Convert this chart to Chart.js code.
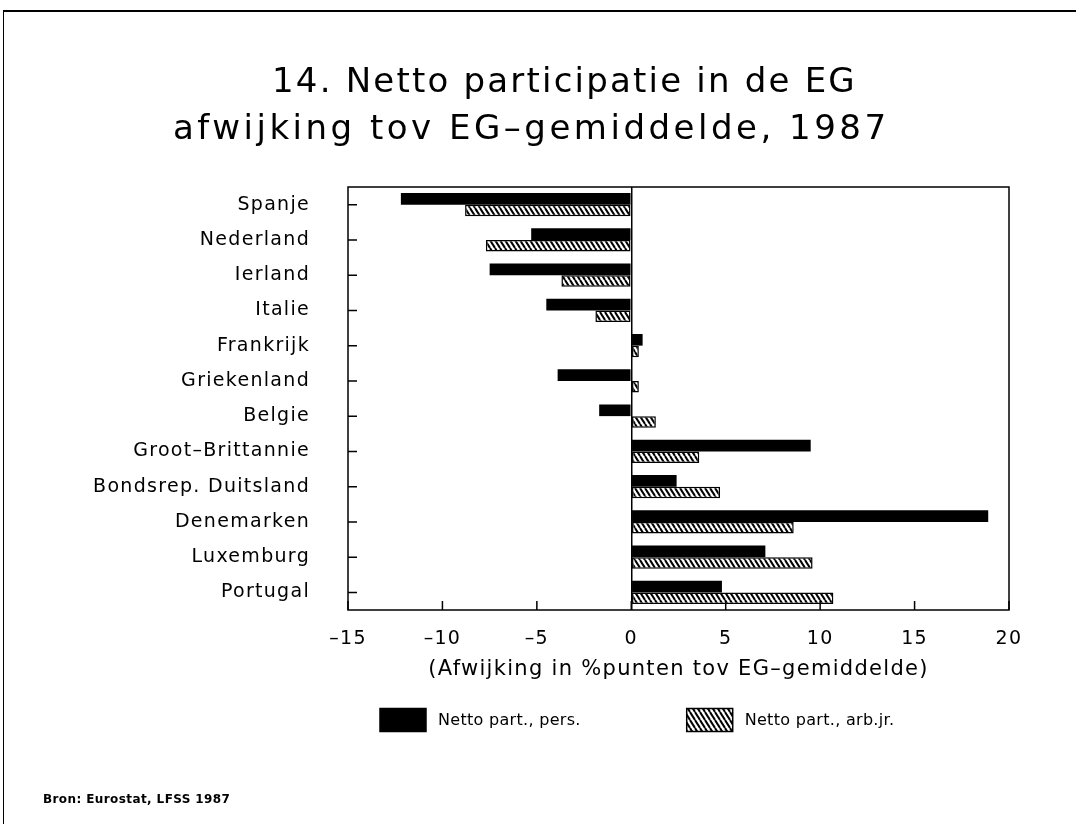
<!DOCTYPE html>
<html>
<head>
<meta charset="utf-8">
<script src="https://cdn.jsdelivr.net/npm/chart.js@4"></script>
<style>
  body { margin: 0; background: #fff; }
  #wrap { position: relative; width: 1076px; height: 824px; overflow: hidden; }
  #frame { position: absolute; left: 3px; top: 10px; width: 1200px; height: 900px;
           border-top: 2px solid #000; border-left: 1.5px solid #000; }
  .t { position: absolute; white-space: nowrap; font-family: "DejaVu Sans"; font-size: 34px;
       line-height: 36px; color: #000; }
  #src { position: absolute; left: 43px; top: 792px; font-family: "DejaVu Sans"; font-weight: bold;
         font-size: 12px; letter-spacing: 0.4px; color: #000; white-space: nowrap; }
  canvas { position: absolute; left: 0; top: 0; }
</style>
</head>
<body>
<div id="wrap">
  <div id="frame"></div>
  <canvas id="chart" width="1076" height="824"></canvas>
  <div class="t" style="left:272px; top:62px; letter-spacing:2.2px;">14. Netto participatie in de EG</div>
  <div class="t" style="left:173px; top:109px; letter-spacing:3.5px;">afwijking tov EG–gemiddelde, 1987</div>
  <div id="src">Bron: Eurostat, LFSS 1987</div>
</div>
<script>
// Netto participatie, afwijking t.o.v. EG-gemiddelde (procentpunten), 1987
const landen = ['Spanje', 'Nederland', 'Ierland', 'Italie', 'Frankrijk', 'Griekenland', 'Belgie',
                'Groot–Brittannie', 'Bondsrep. Duitsland', 'Denemarken', 'Luxemburg', 'Portugal'];
const nettoPers = [-12.2, -5.3, -7.5, -4.5, 0.6, -3.9, -1.7, 9.5, 2.4, 18.9, 7.1, 4.8];
const nettoArbjr = [-8.8, -7.7, -3.7, -1.9, 0.4, 0.4, 1.3, 3.6, 4.7, 8.6, 9.6, 10.7];
const xMin = -15, xMax = 20, xStep = 5;

const ctx = document.getElementById('chart').getContext('2d');

// diagonal hatching for the second series
function hatch() {
    const c = document.createElement('canvas');
    c.width = 5; c.height = 8;
    const g = c.getContext('2d');
    g.fillStyle = '#fff';
    g.fillRect(0, 0, 5, 8);
    g.strokeStyle = '#000';
    g.lineWidth = 2;
    for (let k = -1; k <= 1; k++) {
        g.beginPath();
        g.moveTo(k * 5, 0);
        g.lineTo(k * 5 + 5, 8);
        g.stroke();
    }
    return ctx.createPattern(c, 'repeat');
}

const spacing = {
    id: 'spacing',
    beforeUpdate(chart) { chart.ctx.letterSpacing = '1.3px'; },
    beforeDraw(chart) { chart.ctx.letterSpacing = '1.3px'; }
};

// box round the plot and inward tick marks
const frame = {
    id: 'frame',
    afterDatasetsDraw(chart) {
        const { ctx, chartArea: a, scales: { x, y } } = chart;
        ctx.save();
        ctx.strokeStyle = '#000';
        ctx.lineWidth = 1.5;
        ctx.strokeRect(a.left, a.top, a.right - a.left, a.bottom - a.top);
        ctx.beginPath();
        x.ticks.forEach(t => {
            const px = x.getPixelForValue(t.value);
            ctx.moveTo(px, a.bottom);
            ctx.lineTo(px, a.bottom - 9);
        });
        y.ticks.forEach((t, i) => {
            const py = y.getPixelForTick(i);
            ctx.moveTo(a.left, py);
            ctx.lineTo(a.left + 9, py);
        });
        ctx.stroke();
        ctx.restore();
    }
};

const legendRow = {
    id: 'legendRow',
    afterDraw(chart, args, o) {
        const ctx = chart.ctx;
        ctx.save();
        ctx.letterSpacing = '0.3px';
        ctx.font = '16px "DejaVu Sans"';
        ctx.textBaseline = 'middle';
        let x = o.x;
        chart.data.datasets.forEach(ds => {
            ctx.fillStyle = ds.backgroundColor;
            ctx.fillRect(x, o.y - o.boxH / 2, o.boxW, o.boxH);
            ctx.strokeStyle = '#000';
            ctx.lineWidth = 1.5;
            ctx.strokeRect(x, o.y - o.boxH / 2, o.boxW, o.boxH);
            ctx.fillStyle = '#000';
            ctx.fillText(ds.label, x + o.boxW + 12, o.y + 1);
            x += o.boxW + 12 + ctx.measureText(ds.label).width + o.gap;
        });
        ctx.restore();
    }
};

new Chart(ctx, {
    type: 'bar',
    data: {
        labels: landen,
        datasets: [{
            label: 'Netto part., pers.',
            data: nettoPers,
            backgroundColor: '#000',
            borderWidth: 0
        }, {
            label: 'Netto part., arb.jr.',
            data: nettoArbjr,
            backgroundColor: hatch(),
            borderColor: '#000',
            borderWidth: 1.5,
            borderSkipped: false
        }]
    },
    options: {
        indexAxis: 'y',
        responsive: false,
        animation: false,
        layout: { padding: { top: 187, right: 67, bottom: 134, left: 0 } },
        datasets: { bar: { categoryPercentage: 0.66, barPercentage: 1.0 } },
        scales: {
            x: {
                min: xMin,
                max: xMax,
                ticks: {
                    stepSize: xStep,
                    color: '#000',
                    padding: 18,
                    font: { family: 'DejaVu Sans', size: 19 },
                    callback: v => String(v).replace('-', '–')
                },
                grid: {
                    drawTicks: false,
                    lineWidth: 1.5,
                    color: c => (c.tick && c.tick.value === 0) ? '#000' : 'rgba(0,0,0,0)'
                },
                border: { display: false },
                title: {
                    display: true,
                    text: '(Afwijking in %punten tov EG–gemiddelde)',
                    color: '#000',
                    font: { family: 'DejaVu Sans', size: 21 },
                    padding: { top: 0, bottom: 8 }
                },
                afterFit: s => { s.height = 80; }
            },
            y: {
                ticks: {
                    color: '#000',
                    padding: 30,
                    font: { family: 'DejaVu Sans', size: 19 }
                },
                grid: { display: false },
                border: { display: false },
                afterFit: s => { s.width = 348; }
            }
        },
        plugins: {
            legend: { display: false },
            tooltip: { enabled: false },
            legendRow: { x: 380, y: 720, boxW: 46, boxH: 23, gap: 106 }
        }
    },
    plugins: [spacing, frame, legendRow]
});
</script>
</body>
</html>
